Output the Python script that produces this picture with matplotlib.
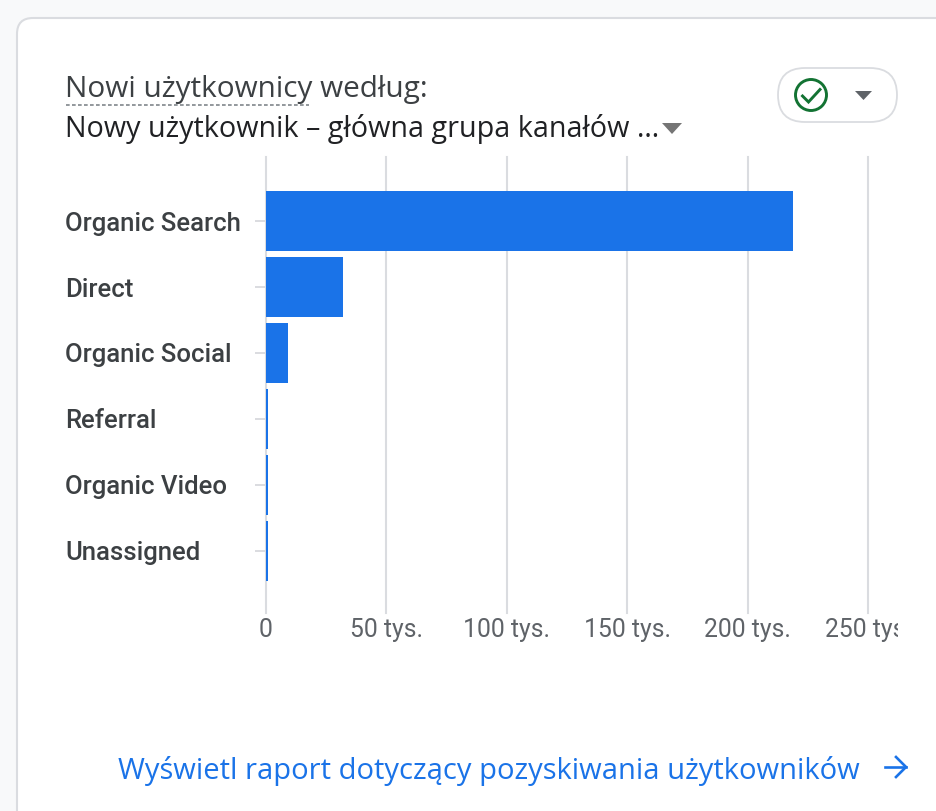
#!/usr/bin/env python3
import matplotlib
matplotlib.use("Agg")
import matplotlib.pyplot as plt
from matplotlib.patches import FancyBboxPatch, Circle, Polygon
from matplotlib.transforms import Bbox

#%%
kanaly = ["Organic Search", "Direct", "Organic Social", "Referral", "Organic Video", "Unassigned"]
nowi_uzytkownicy = [218900, 32200, 9400, 1100, 1000, 1000]
ticki = [0, 50000, 100000, 150000, 200000, 250000]
etykiety_tickow = ["0", "50 tys.", "100 tys.", "150 tys.", "200 tys.", "250 tys."]

W, H = 937, 811
NIEBIESKI = "#1a73e8"
SZARY = "#dadce0"

fig = plt.figure(figsize=(W / 100, H / 100), dpi=100, facecolor="#f8f9fa")

#%%
# warstwa z karta i tekstami, w pikselach obrazka
tlo = fig.add_axes([0, 0, 1, 1])
tlo.set_xlim(0, W)
tlo.set_ylim(H, 0)
tlo.axis("off")
tlo.add_patch(FancyBboxPatch((17, 18), 1000, 900, boxstyle="round,pad=0,rounding_size=16",
                             fc="white", ec=SZARY, lw=1.5))

tlo.text(65.5, 97, "Nowi użytkownicy według:", fontsize=21.4, family="Open Sans",
         color="#3c4043", va="baseline")
tlo.plot([66, 309], [105, 105], color="#80868b", lw=1.2, dashes=(2.2, 1.4))
tlo.text(65.5, 137, "Nowy użytkownik – główna grupa kanałów …", fontsize=20.7, family="Open Sans",
         color="#202124", va="baseline")
tlo.add_patch(Polygon([(662, 123), (682, 123), (672, 134)], fc="#757575", ec="none"))

# przycisk ze statusem
tlo.add_patch(FancyBboxPatch((778, 68), 119, 54, boxstyle="round,pad=0,rounding_size=27",
                             fc="white", ec=SZARY, lw=1.3))
tlo.add_patch(Circle((811, 95), 15.5, fc="none", ec="#137333", lw=2.1))
tlo.plot([802.5, 808.5, 820], [96, 102, 89.5], color="#137333", lw=2.1, solid_joinstyle="miter")
tlo.add_patch(Polygon([(855, 91), (872, 91), (863.5, 100)], fc="#5f6368", ec="none"))

tlo.text(118, 779, "Wyświetl raport dotyczący pozyskiwania użytkowników", fontsize=21,
         family="Open Sans", color=NIEBIESKI, va="baseline")
tlo.plot([885, 906], [767, 767], color=NIEBIESKI, lw=1.9)
tlo.plot([896, 906, 896], [757, 767, 777], color=NIEBIESKI, lw=1.9, solid_joinstyle="miter")

#%%
# wykres: os x 0 na 265.5 px, 50 tys. = 120.6 px
lewa, prawa, gora, dol = 265.5, 898, 157, 613
ax = fig.add_axes([lewa / W, 1 - dol / H, (prawa - lewa) / W, (dol - gora) / H])
ax.patch.set_alpha(0)
ax.barh(range(len(kanaly)), nowi_uzytkownicy, height=60 / 66, color=NIEBIESKI, zorder=3)
ax.set_xlim(0, (prawa - lewa) / 120.6 * 50000)
ax.set_ylim(5.94, -0.97)
for s in ax.spines.values():
    s.set_visible(False)
ax.set_xticks(ticki)
ax.set_xticklabels(etykiety_tickow, fontsize=17.8, family="Roboto", color="#5f6368")
ax.set_yticks(range(len(kanaly)))
ax.set_yticklabels(kanaly, fontsize=18.5, family="Roboto", fontweight="medium", color="#3c4043", ha="left")
ax.tick_params(axis="x", length=0, pad=3.8)
ax.tick_params(axis="y", length=8, width=1.4, color=SZARY, pad=136.4)
ax.xaxis.grid(True, color=SZARY, lw=1.5, clip_on=False)
ax.set_axisbelow(True)

# ostatnia etykieta jest ucieta na prawej krawedzi
okno = Bbox.from_extents(0, 0, prawa, H)
for t in ax.get_xticklabels():
    t.set_clip_box(okno)
    t.set_clip_on(True)

fig.savefig("out.png", dpi=100, facecolor=fig.get_facecolor())
